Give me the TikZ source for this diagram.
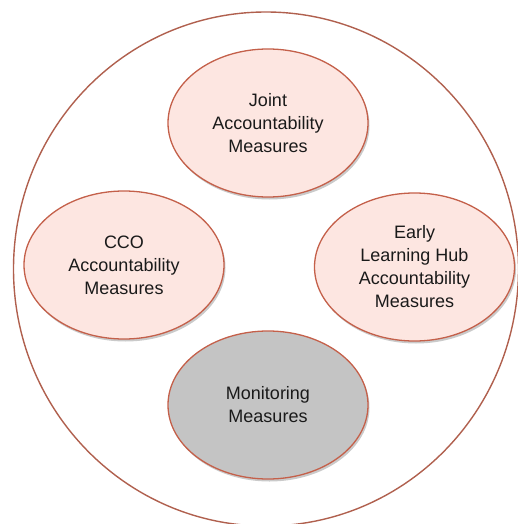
\documentclass[tikz,border=0pt]{standalone}
\usepackage{fontspec}
\setmainfont{Liberation Sans}
\usetikzlibrary{shapes.geometric,shadows}
\definecolor{ringline}{HTML}{B0604E}
\definecolor{budline}{HTML}{C4604A}
\definecolor{budfill}{HTML}{FDE6E1}
\definecolor{monfill}{HTML}{C4C4C4}
\definecolor{txt}{HTML}{1A1A1A}
\tikzset{
  bud/.style={ellipse, draw=budline, line width=1.3pt, fill=budfill,
    minimum width=200pt, minimum height=148pt, inner sep=0pt,
    align=center, text=txt,
    font=\fontsize{18pt}{23pt}\selectfont,
    drop shadow={shadow xshift=1.5pt, shadow yshift=-2.5pt, opacity=0.35, fill=black!60}},
  monbud/.style={bud, fill=monfill},
  ring/.style={draw=ringline, line width=1.4pt}
}
\begin{document}
\begin{tikzpicture}[x=1pt, y=-1pt]
  \useasboundingbox (0,0) rectangle (518,524);
  \begin{scope}
    \clip (0,0) rectangle (518,524);
    \draw[ring] (266,269) ellipse [x radius=252.5, y radius=257];
  \end{scope}
  \node[bud] (joint) at (268,123) {Joint\\Accountability\\Measures};
  \node[bud] (cco) at (124,265) {CCO\\Accountability\\Measures};
  \node[bud] (elh) at (414.5,267) {Early\\Learning Hub\\Accountability\\Measures};
  \node[monbud] (mon) at (268,405) {Monitoring\\Measures};
\end{tikzpicture}
\end{document}
